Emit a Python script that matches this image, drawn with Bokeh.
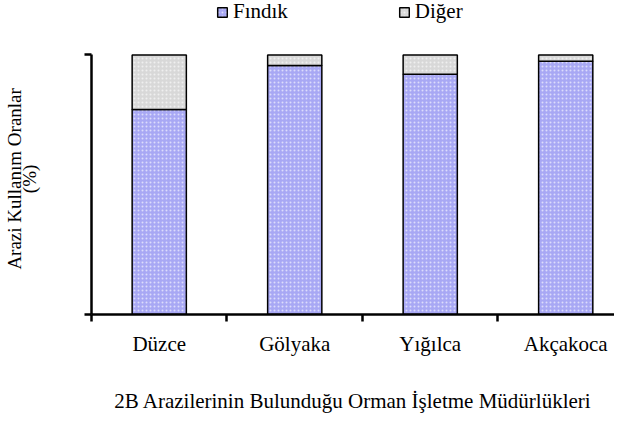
from bokeh.plotting import figure
from bokeh.models import Range1d, FixedTicker, LinearAxis, Legend, LegendItem, ColumnDataSource
from bokeh.embed import file_html
from bokeh.resources import INLINE

cats = ["Düzce", "Gölyaka", "Yığılca", "Akçakoca"]
findik = [79.0, 96.0, 92.6, 97.6]
diger = [21.0, 4.0, 7.4, 2.4]
series = ["Fındık", "Diğer"]
y_ticks = [0, 100]
y_title = ["Arazi Kullanım Oranlar", "(%)"]

FONT = "Liberation Serif"
PAD = "\u00a0" * 9  # shifts the rotated title down to sit beside the bars

xpos = [i + 0.5 for i in range(len(cats))]
src = ColumnDataSource(dict(x=xpos, cat=cats, findik=findik, diger=diger))

p = figure(width=614, height=415, output_backend="svg", toolbar_location=None,
           x_range=Range1d(0, 3.86), y_range=Range1d(0, 121),
           min_border_left=89, min_border_right=0, min_border_top=0, min_border_bottom=99,
           x_axis_location=None, y_axis_location=None)
p.outline_line_color = None
p.xgrid.visible = False
p.ygrid.visible = False
p.background_fill_color = "white"

rs = p.vbar_stack(["findik", "diger"], x="x", width=0.4, source=src,
                  fill_color=["#a8a8f4", "#d8d8d8"], line_color="black", line_width=1.5,
                  hatch_pattern="dot", hatch_color="white", hatch_scale=4, hatch_weight=1.2,
                  hatch_alpha=0.6)

xax = LinearAxis(ticker=FixedTicker(ticks=xpos, minor_ticks=list(range(len(cats)))))
xax.major_label_overrides = {x: c for x, c in zip(xpos, cats)}
xax.major_tick_out = 0
xax.major_tick_in = 0
xax.minor_tick_out = 7
xax.minor_tick_in = 0
xax.minor_tick_line_width = 2.5
xax.minor_tick_line_color = "black"
xax.axis_line_width = 2.5
xax.axis_line_color = "black"
xax.major_label_text_font = FONT
xax.major_label_text_font_size = "21px"
xax.major_label_text_color = "black"
xax.major_label_standoff = 10
xax.axis_label = "2B Arazilerinin Bulunduğu Orman İşletme Müdürlükleri"
xax.axis_label_text_font = FONT
xax.axis_label_text_font_size = "21px"
xax.axis_label_text_font_style = "normal"
xax.axis_label_text_color = "black"
xax.axis_label_standoff = 30
p.add_layout(xax, "below")

yax = LinearAxis(ticker=FixedTicker(ticks=y_ticks, minor_ticks=[]), bounds=(0, 100))
yax.major_label_overrides = {t: "" for t in y_ticks}
yax.major_label_standoff = 0
yax.major_tick_out = 7
yax.major_tick_in = 0
yax.major_tick_line_width = 2.5
yax.major_tick_line_color = "black"
yax.axis_line_width = 2.5
yax.axis_line_color = "black"
yax.axis_label = "\n".join(t + PAD for t in y_title)
yax.axis_label_text_font = FONT
yax.axis_label_text_font_size = "19px"
yax.axis_label_text_font_style = "normal"
yax.axis_label_text_color = "black"
yax.axis_label_text_line_height = 0.7
yax.axis_label_standoff = 45
p.add_layout(yax, "left")

legend = Legend(items=[LegendItem(label=s, renderers=[r]) for s, r in zip(series, rs)],
                orientation="horizontal", location=(125, 290),
                glyph_width=12, glyph_height=12, label_standoff=5, spacing=110,
                padding=0, margin=0, border_line_color=None, background_fill_alpha=0,
                label_text_font=FONT, label_text_font_size="21px", label_text_color="black")
p.add_layout(legend, "center")

open("out.html", "w").write(file_html(p, INLINE))
